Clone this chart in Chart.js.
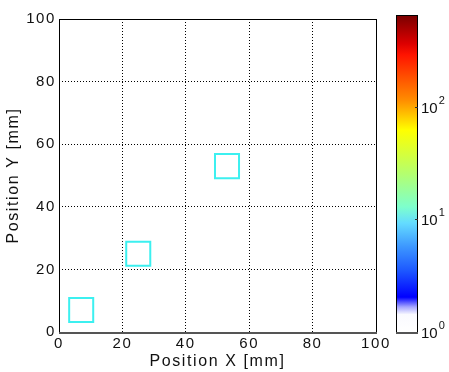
<!DOCTYPE html>
<html>
<head>
<meta charset="utf-8">
<script src="https://cdn.jsdelivr.net/npm/chart.js@4/dist/chart.umd.min.js"></script>
<style>
  html, body { margin: 0; padding: 0; background: #fff; }
  #wrap { position: relative; width: 449px; height: 372px; }
  #main { position: absolute; left: 0; top: 0; }
  #cbar { position: absolute; left: 380px; top: 0; }
</style>
</head>
<body>
<div id="wrap">
  <canvas id="main" width="449" height="372"></canvas>
  <canvas id="cbar" width="69" height="372"></canvas>
</div>
<script>
// Detector positions in mm
const posX = [7, 25, 53];
const posY = [7, 25, 53];

// Axis ticks (mm)
const axisTicks = [0, 20, 40, 60, 80, 100];

// Colour bar range (log scale) and its decade ticks
const cbMin = 1;
const cbMax = 657;
const cbTicks = [1, 10, 100];
const cbExponents = ['0', '1', '2'];

// Jet-like colour map with a white foot, as [fraction from bottom, colour]
const colorMap = [
  [0.000, 'rgb(255,255,255)'],
  [0.055, 'rgb(250,250,255)'],
  [0.079, 'rgb(165,165,255)'],
  [0.110, 'rgb(0,0,255)'],
  [0.196, 'rgb(30,90,255)'],
  [0.268, 'rgb(60,150,255)'],
  [0.344, 'rgb(100,220,255)'],
  [0.394, 'rgb(125,255,205)'],
  [0.500, 'rgb(180,255,110)'],
  [0.574, 'rgb(220,255,50)'],
  [0.637, 'rgb(255,255,0)'],
  [0.690, 'rgb(255,190,0)'],
  [0.732, 'rgb(255,140,0)'],
  [0.804, 'rgb(255,80,0)'],
  [0.874, 'rgb(255,20,0)'],
  [0.910, 'rgb(220,0,0)'],
  [1.000, 'rgb(120,0,0)']
];

const FONT = "'Liberation Sans', Arial, sans-serif";
const TEXT = '#111';

// Wider tracking for the axis text
const tracking = {
  id: 'tracking',
  beforeLayout(c) { c.ctx.letterSpacing = '1.6px'; },
  beforeDraw(c) { c.ctx.letterSpacing = '1.6px'; }
};

// Solid box around the plot area
const frame = {
  id: 'frame',
  afterDraw(c) {
    const {left, right, top, bottom} = c.chartArea;
    const ctx = c.ctx;
    ctx.save();
    ctx.strokeStyle = '#000';
    ctx.lineWidth = 1;
    ctx.strokeRect(left + 0.5, top + 0.5, right - left, bottom - top);
    ctx.strokeStyle = '#555';
    ctx.lineWidth = 2;
    ctx.beginPath();
    ctx.moveTo(left, bottom + 1);
    ctx.lineTo(right + 1, bottom + 1);
    ctx.stroke();
    ctx.restore();
  }
};

const gridOpts = { color: '#000', lineWidth: 1, drawTicks: false };
const dottedBorder = { display: false, dash: [1, 2] };

new Chart(document.getElementById('main'), {
  type: 'scatter',
  data: {
    datasets: [{
      data: posX.map((x, i) => ({x, y: posY[i]})),
      pointStyle: 'rect',
      pointRadius: 17,
      pointHoverRadius: 17,
      borderWidth: 2,
      borderColor: 'rgb(60,240,240)',
      backgroundColor: 'rgba(0,0,0,0)'
    }]
  },
  options: {
    responsive: false,
    animation: false,
    events: [],
    layout: { padding: { left: 0, top: 15, right: 73, bottom: 0 } },
    plugins: { legend: { display: false }, tooltip: { enabled: false } },
    scales: {
      x: {
        type: 'linear', min: 0, max: 100,
        afterBuildTicks(s) { s.ticks = axisTicks.map(v => ({value: v})); },
        afterFit(s) { s.height = 40; },
        grid: gridOpts,
        border: dottedBorder,
        ticks: { padding: 3, color: TEXT, font: { family: FONT, size: 15 }, maxRotation: 0 },
        title: {
          display: true, text: 'Position X [mm]', color: TEXT,
          font: { family: FONT, size: 16, lineHeight: 1.25 },
          padding: { top: 0, bottom: 0 }
        }
      },
      y: {
        type: 'linear', min: 0, max: 100,
        afterBuildTicks(s) { s.ticks = axisTicks.map(v => ({value: v})); },
        afterFit(s) { s.width = 59; },
        grid: gridOpts,
        border: dottedBorder,
        ticks: { padding: 3, color: TEXT, font: { family: FONT, size: 15 } },
        title: {
          display: true, text: 'Position Y [mm]', color: TEXT,
          font: { family: FONT, size: 16, lineHeight: 1.25 },
          padding: { top: 4, bottom: 0 }
        }
      }
    }
  },
  plugins: [tracking, frame]
});

// Colour bar: gradient fill, box, decade ticks and 10^n labels
const colorBar = {
  id: 'colorBar',
  beforeDatasetsDraw(c) {
    const {left, right, top, bottom} = c.chartArea;
    const ctx = c.ctx;
    const g = ctx.createLinearGradient(0, bottom, 0, top);
    colorMap.forEach(([f, col]) => g.addColorStop(f, col));
    ctx.save();
    ctx.fillStyle = g;
    ctx.fillRect(left, top, right - left, bottom - top);
    ctx.restore();
  },
  afterDraw(c) {
    const {left, right, top, bottom} = c.chartArea;
    const ctx = c.ctx;
    const s = c.scales.y;
    ctx.save();
    ctx.strokeStyle = '#000';
    ctx.lineWidth = 1;
    ctx.strokeRect(left + 0.5, top + 0.5, right - left, bottom - top);
    ctx.strokeStyle = '#555';
    ctx.lineWidth = 2;
    ctx.beginPath();
    ctx.moveTo(left, bottom + 1);
    ctx.lineTo(right + 1, bottom + 1);
    ctx.stroke();
    ctx.strokeStyle = '#333';
    ctx.lineWidth = 1;
    ctx.fillStyle = TEXT;
    ctx.textBaseline = 'middle';
    ctx.textAlign = 'left';
    cbTicks.forEach((v, i) => {
      const y = Math.round(s.getPixelForValue(v)) + 0.5;
      if (i > 0) {
        ctx.beginPath();
        ctx.moveTo(right - 2, y);
        ctx.lineTo(right + 1, y);
        ctx.stroke();
      }
      const x0 = right + 4;
      ctx.font = '15px ' + FONT;
      ctx.fillText('10', x0, y + 1);
      const w = ctx.measureText('10').width;
      ctx.font = '11px ' + FONT;
      ctx.fillText(cbExponents[i], x0 + w + 1, y - 7);
    });
    ctx.restore();
  }
};

new Chart(document.getElementById('cbar'), {
  type: 'scatter',
  data: { datasets: [{ data: [] }] },
  options: {
    responsive: false,
    animation: false,
    events: [],
    layout: { padding: { left: 16, top: 15, right: 0, bottom: 40 } },
    plugins: { legend: { display: false }, tooltip: { enabled: false } },
    scales: {
      x: { display: false, min: 0, max: 1 },
      y: {
        type: 'logarithmic', position: 'right', min: cbMin, max: cbMax,
        afterFit(s) { s.width = 32; },
        grid: { display: false },
        border: { display: false },
        ticks: { display: false }
      }
    }
  },
  plugins: [colorBar]
});
</script>
</body>
</html>
